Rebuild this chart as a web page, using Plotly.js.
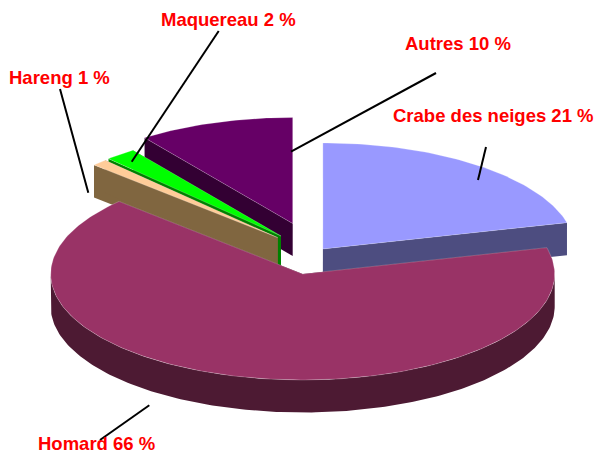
<!DOCTYPE html>
<html>
<head>
<meta charset="utf-8">
<script src="https://cdn.plot.ly/plotly-3.0.1.min.js"></script>
<style>html,body{margin:0;padding:0;background:#fff}#chart{width:595px;height:453px}</style>
</head>
<body>
<div id="chart"></div>
<script>
// Data, clockwise from 12 o'clock
const categories = ["Crabe des neiges", "Homard", "Hareng", "Maquereau", "Autres"];
const shares = [21, 66, 1, 2, 10];

// Styling / projection
const topColors = ["#9999ff", "#993366", "#ffcc99", "#00ff00", "#660066"];
const wallColors = ["#4d4d80", "#4d1a33", "#806640", "#008000", "#330033"];
const centersX = [322.9, 302.7, 277.7, 281, 292.7];
const centersY = [249, 274, 237.6, 236, 223.5];
const drawOrder = [4, 3, 2, 0, 1];
const labelX = [493.5, 96.5, 59.5, 228, 458];
const labelY = [115, 443, 77, 19, 43];
const leaderFromX = [486, 149.3, 60, 218.7, 436];
const leaderFromY = [147, 405.3, 89, 31, 73];
const leaderToX = [478, 100, 88.3, 131.7, 291];
const leaderToY = [180, 440, 192.7, 161.7, 151.7];
const rx = 252, ry = 106, depth = 32.5;

const total = shares.reduce((a, b) => a + b, 0);
let running = 0;
const spans = shares.map(v => { const s = [running, running + v]; running += v; return s.map(p => p / total * 360); });

function pt(i, deg, dy) {
  const r = deg * Math.PI / 180;
  return [centersX[i] + rx * Math.sin(r), centersY[i] - ry * Math.cos(r) + (dy || 0)];
}
function arc(i, a0, a1, dy) {
  const out = [], n = Math.max(2, Math.ceil(Math.abs(a1 - a0)));
  for (let k = 0; k <= n; k++) out.push(pt(i, a0 + (a1 - a0) * k / n, dy));
  return out;
}
function poly(points, fill, line) {
  const closed = points.concat([points[0]]);
  return {
    type: "scatter", mode: "lines", x: closed.map(p => p[0]), y: closed.map(p => p[1]),
    fill: "toself", fillcolor: fill,
    line: line ? { color: line, width: 0.6 } : { width: 0, color: fill },
    hoverinfo: "skip", showlegend: false
  };
}

const traces = [];
drawOrder.forEach(i => {
  const [a0, a1] = spans[i];
  const apex = [centersX[i], centersY[i]];
  const apexLow = [centersX[i], centersY[i] + depth];
  // radial walls
  [a0, a1].forEach(a => {
    traces.push(poly([apex, pt(i, a), pt(i, a, depth), apexLow], wallColors[i]));
  });
  // outer rim, front half only
  const r0 = Math.max(a0, 90), r1 = Math.min(a1, 270);
  if (r1 > r0) {
    traces.push(poly(arc(i, r0, r1, 0).concat(arc(i, r1, r0, depth)), wallColors[i]));
  }
  // top face
  traces.push(poly([apex].concat(arc(i, a0, a1, 0)), topColors[i], "rgba(255,255,255,0.35)"));
});

const annotations = categories.map((c, i) => ({
  xref: "x", yref: "y", x: labelX[i], y: labelY[i], xanchor: "center", yanchor: "middle",
  text: "<b>" + c + " " + shares[i] + " %</b>", showarrow: false,
  font: { family: "'Liberation Sans', Arial, sans-serif", size: 18.5, color: "#ff0000" }
}));
const shapes = categories.map((c, i) => ({
  type: "line", xref: "x", yref: "y", layer: "above",
  x0: leaderFromX[i], y0: leaderFromY[i], x1: leaderToX[i], y1: leaderToY[i],
  line: { color: "#000000", width: 2 }
}));

Plotly.newPlot("chart", traces, {
  width: 595, height: 453,
  margin: { l: 0, r: 0, t: 0, b: 0 },
  paper_bgcolor: "#ffffff", plot_bgcolor: "#ffffff",
  xaxis: { range: [0, 595], visible: false, fixedrange: true },
  yaxis: { range: [453, 0], visible: false, fixedrange: true },
  annotations, shapes, showlegend: false
}, { displayModeBar: false, staticPlot: true });
</script>
</body>
</html>
